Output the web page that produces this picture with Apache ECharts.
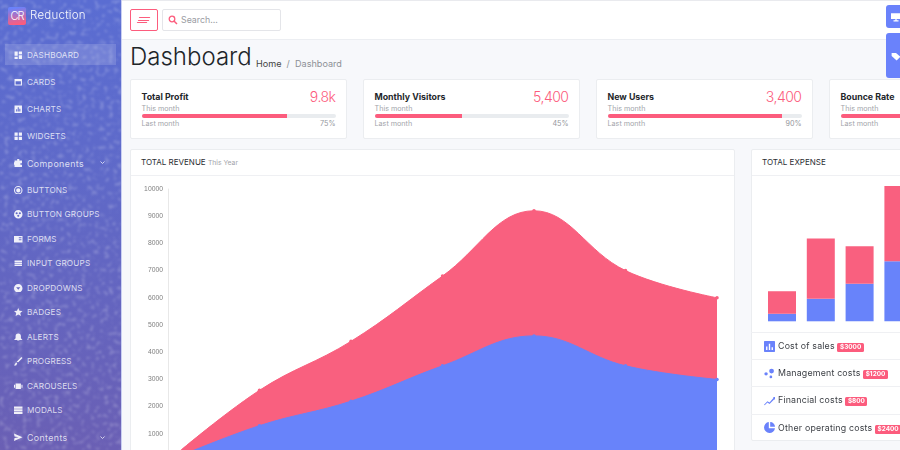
<!DOCTYPE html>
<html>
<head>
<meta charset="utf-8">
<title>Reduction</title>
<script src="https://cdn.jsdelivr.net/npm/echarts@6/dist/echarts.min.js"></script>
<style>
  html, body { margin: 0; padding: 0; width: 900px; height: 450px; overflow: hidden; background: #f7f8fb; font-family: Inter, "Noto Sans", sans-serif; color: #212529; }
  .abs { position: absolute; }
  #sidebar { left: 0; top: 0; width: 121px; height: 450px; overflow: hidden; background: linear-gradient(180deg, #5a6dd2 0%, #5f69c8 40%, #6a5fb4 100%); border-right: 1px solid #c9cff2; }
  #sidebar svg.noise { position: absolute; left: 0; top: 0; }
  #logo { left: 8px; top: 7px; width: 18px; height: 18px; border-radius: 2px; background: linear-gradient(170deg, #6a82fb 10%, #fc5c7d 90%); color: #fff; font-size: 11px; line-height: 18px; text-align: center; letter-spacing: -1px; font-weight: 300; }
  #brand { left: 30px; top: 7px; font-size: 11.5px; line-height: 17px; color: #fff; font-weight: 300; opacity: .95; letter-spacing: .25px; }
  #nav { left: 0; top: 41.5px; width: 121px; }
  .item { position: relative; height: 27px; line-height: 27px; padding-left: 27px; font-size: 8.2px; color: rgba(255,255,255,.78); white-space: nowrap; letter-spacing: .15px; }
  .item.sub { height: 24.5px; line-height: 24.5px; }
  .item.big { font-size: 8.8px; letter-spacing: .4px; }
  .item.active::before { content: ""; position: absolute; left: 5px; right: 5px; top: 2.5px; bottom: 3.5px; background: rgba(255,255,255,.15); }
  .item svg { position: absolute; left: 14px; top: 50%; margin-top: -4.5px; width: 8.5px; height: 8.5px; fill: #fff; opacity: .9; }
  .sub-first { margin-top: 1.25px; }
  .sub-last { margin-bottom: 1.25px; }

  #topbar { left: 122px; top: 0; width: 778px; background: #fff; border-top: 1px solid #e9eaee; border-bottom: 1px solid #eceef2; box-sizing: border-box; height: 40px; }
  #burger { left: 130px; top: 9px; width: 26px; height: 20px; border: 1px solid #fc5c7d; border-radius: 2px; background: #fff; }
  #burger i { position: absolute; height: 1.2px; background: #fc5c7d; transform: skewX(-30deg); }
  #search { left: 162px; top: 9px; width: 117px; height: 20px; border: 1px solid #e4e5e9; border-radius: 2px; background: #fff; }
  #search span { position: absolute; left: 18px; top: 0; line-height: 19px; font-size: 8.8px; color: #9a9ca3; }
  #search svg { position: absolute; left: 5px; top: 4.5px; width: 10px; height: 10px; }
  .tab { left: 886px; width: 14px; background: #6a82fb; border-radius: 3px 0 0 3px; }
  .tab svg { position: absolute; left: 5px; width: 10px; height: 10px; fill: #fff; }

  #title { left: 130px; top: 40px; font-size: 24px; line-height: 33px; font-weight: 300; color: #212529; }
  #crumbs { left: 256px; top: 57px; font-size: 9.1px; line-height: 14px; color: #444; white-space: nowrap; }
  #crumbs em { font-style: normal; color: #8d9096; }

  .card { background: #fff; border: 1px solid #ebedf0; border-radius: 2px; box-sizing: border-box; }
  .stat { top: 79px; width: 217px; height: 60px; }
  .stat .name { position: absolute; left: 10.5px; top: 10.5px; font-size: 8.8px; line-height: 12px; font-weight: 700; color: #23262b; white-space: nowrap; }
  .stat .val { position: absolute; right: 10.5px; top: 7px; font-size: 14px; line-height: 20px; font-weight: 300; color: #fc5c7d; letter-spacing: -.5px; }
  .stat .lbl { position: absolute; left: 10.5px; font-size: 7.2px; line-height: 9px; color: #a2a4aa; white-space: nowrap; }
  .stat .pct { position: absolute; right: 10.5px; top: 38.5px; font-size: 7.2px; line-height: 9px; color: #94969c; }
  .stat .track { position: absolute; left: 10.5px; width: 194px; top: 33.5px; height: 4.5px; background: #e9ecef; border-radius: 2px; overflow: hidden; }
  .stat .fill { height: 100%; background: #fc5c7d; }

  .head { position: absolute; left: 0; right: 0; top: 0; height: 26px; border-bottom: 1px solid #eff0f3; box-sizing: border-box; font-size: 8px; line-height: 24px; padding-left: 10px; color: #2b2e33; white-space: nowrap; }
  .head small { font-size: 6.8px; color: #a2a4aa; }
  #revenueCard { left: 130px; top: 149px; width: 605px; height: 330px; }
  #expenseCard { left: 751px; top: 149px; width: 180px; height: 292px; }
  #revenue { left: 130px; top: 176px; width: 600px; height: 300px; }
  #expense { left: 751px; top: 176px; width: 180px; height: 157px; }
  #costs { left: 751px; top: 332px; width: 180px; }
  .cost { position: relative; height: 27.2px; line-height: 26px; border-top: 1px solid #eff0f3; box-sizing: border-box; padding-left: 27px; font-size: 8.8px; color: #3d4046; white-space: nowrap; letter-spacing: .2px; }
  .cost b { display: inline-block; margin-left: 0; padding: 0 2.5px; height: 9px; line-height: 9px; font-size: 6.4px; font-weight: 700; color: #fff; background: #fc5c7d; border-radius: 1.5px; letter-spacing: 0; }
  .cost svg { position: absolute; left: 12.5px; top: 7.5px; width: 11px; height: 11px; fill: #6a82fb; }
</style>
</head>

<body>
  <div id="sidebar" class="abs">
    <svg class="noise" width="122" height="450">
      <filter id="speck" x="0" y="0" width="100%" height="100%">
        <feTurbulence type="fractalNoise" baseFrequency="0.22" numOctaves="2" seed="11"/>
        <feColorMatrix values="0 0 0 0 1  0 0 0 0 1  0 0 0 0 1  5 0 0 0 -2.7"/>
        <feGaussianBlur stdDeviation="0.9"/>
      </filter>
      <rect width="122" height="450" filter="url(#speck)" opacity="0.2"/>
    </svg>
    <div id="logo" class="abs">CR</div>
    <div id="brand" class="abs">Reduction</div>
    <div id="nav" class="abs"></div>
  </div>

  <div id="topbar" class="abs"></div>
  <div id="burger" class="abs">
    <i style="left:8px;top:7px;width:11px"></i><i style="left:7px;top:9.5px;width:11px"></i><i style="left:6px;top:12px;width:10px"></i>
  </div>
  <div id="search" class="abs">
    <svg viewBox="0 0 10 10"><circle cx="4" cy="4" r="2.8" fill="none" stroke="#fc5c7d" stroke-width="1.3"/><path d="M6 6 L9 9" stroke="#fc5c7d" stroke-width="1.5"/></svg>
    <span>Search...</span>
  </div>
  <div class="tab abs" style="top:5px;height:23px"><svg style="top:7px" viewBox="0 0 16 16"><path d="M0 2h16v9H9v2h3v2H4v-2h3v-2H0z"/></svg></div>
  <div class="tab abs" style="top:33px;height:45px"><svg style="top:18px" viewBox="0 0 16 16"><path d="M1 3h7l7 6-6 6-8-7z"/></svg></div>

  <div id="title" class="abs">Dashboard</div>
  <div id="crumbs" class="abs">Home&nbsp; <em>/</em> &nbsp;<em>Dashboard</em></div>

  <div id="stats"></div>

  <div id="revenueCard" class="card abs"><div class="head">TOTAL REVENUE <small>This Year</small></div></div>
  <div id="expenseCard" class="card abs"><div class="head">TOTAL EXPENSE</div></div>
  <div id="revenue" class="abs"></div>
  <div id="expense" class="abs"></div>
  <div id="costs" class="abs"></div>

  <script type="text/javascript">
    var months = ['January', 'February', 'March', 'April', 'May', 'June', 'July'];
    var revenuePink = [0, 2600, 4400, 6800, 9200, 7000, 6000];
    var revenueBlue = [0, 1300, 2200, 3500, 4600, 3500, 3000];
    var revenueMax = 10000;
    var revenueStep = 1000;

    var expenseCategories = ['A', 'B', 'C', 'D'];
    var expenseBlue = [1, 3, 5, 8];
    var expensePink = [3, 8, 5, 10];
    var expenseMax = 18;

    var statNames = ['Total Profit', 'Monthly Visitors', 'New Users', 'Bounce Rate'];
    var statValues = ['9.8k', '5,400', '3,400', ''];
    var statPercents = [75, 45, 90, 60];
    var statLefts = [130, 363, 596, 829];

    var costNames = ['Cost of sales', 'Management costs', 'Financial costs', 'Other operating costs'];
    var costAmounts = ['$3000', '$1200', '$800', '$2400'];
    var costIcons = [
      'M1 0h14a1 1 0 0 1 1 1v14a1 1 0 0 1-1 1H1a1 1 0 0 1-1-1V1a1 1 0 0 1 1-1zM3 8v5h2V8zM7 4v9h2V4zM11 9v4h2V9z',
      'M11 1a3.4 3.4 0 1 1 0 7 3.4 3.4 0 0 1 0-7zM3 6a2.4 2.4 0 1 1 0 5 2.4 2.4 0 0 1 0-5zM10 11a2 2 0 1 1 0 4 2 2 0 0 1 0-4z',
      'M0 14l5-5 3 2 6-7-1-1h3v4l-1-1-7 7-3-2-4 4z',
      'M7 0v9h9a8 8 0 1 1-9-9zM9 0a7 7 0 0 1 7 7H9z'
    ];

    var navLabels = ['DASHBOARD', 'CARDS', 'CHARTS', 'WIDGETS', 'Components', 'BUTTONS', 'BUTTON GROUPS', 'FORMS', 'INPUT GROUPS', 'DROPDOWNS', 'BADGES', 'ALERTS', 'PROGRESS', 'CAROUSELS', 'MODALS', 'Contents'];
    var navIcons = [
      'M1 1h6v8H1zM9 1h6v5H9zM1 11h6v4H1zM9 8h6v7H9z',
      'M1 2h14v12H1zM3 6v6h10V6z',
      'M1 1h14v14H1zM4 12h2V8H4zM7 12h2V4H7zM10 12h2V7h-2z',
      'M1 1h6v6H1zM9 1h6v6H9zM1 9h6v6H1zM9 9h6v6H9z',
      'M6 0h4v3h5v5h-3v3h3v5H1v-5H0V6h1V3h5z',
      'M8 0a8 8 0 1 1 0 16A8 8 0 0 1 8 0zM8 2a6 6 0 1 0 0 12A6 6 0 0 0 8 2zM8 4a4 4 0 1 1 0 8 4 4 0 0 1 0-8z',
      'M8 0a8 8 0 1 1 0 16A8 8 0 0 1 8 0zM5 4a2 2 0 1 0 0 4 2 2 0 0 0 0-4zM11 4a2 2 0 1 0 0 4 2 2 0 0 0 0-4zM8 9a2 2 0 1 0 0 4 2 2 0 0 0 0-4z',
      'M0 2h16v12H0zM9 4v2h5V4zM9 8v2h5V8z',
      'M1 3h14v3H1zM1 7h14v3H1zM1 11h14v2H1z',
      'M8 0a8 8 0 1 1 0 16A8 8 0 0 1 8 0zM4 6l4 5 4-5z',
      'M8 0l2.4 5.2 5.6.6-4.2 3.8 1.2 5.6L8 12.4 3 15.2l1.2-5.6L0 5.8l5.6-.6z',
      'M8 1a5 5 0 0 1 5 5v4l3 3H0l3-3V6a5 5 0 0 1 5-5zM6 14h4v2H6z',
      'M14 0l2 2-8 8-3-1zM4 10l2 2-2 4H0z',
      'M3 3h10v10H3zM0 5h2v6H0zM14 5h2v6h-2z',
      'M0 1h16v4H0zM0 6h16v4H0zM0 11h16v4H0z',
      'M0 1l16 7L0 15l1-5.5L9 8 1 6.5z'
    ];
    var navSub = [5, 6, 7, 8, 9, 10, 11, 12, 13, 14];
    var navBig = [4, 15];

    // left menu
    var navHtml = '';
    for (var i = 0; i < navLabels.length; i++) {
      var cls = 'item';
      if (navSub.indexOf(i) >= 0) cls += ' sub';
      if (navBig.indexOf(i) >= 0) cls += ' big';
      if (i == 0) cls += ' active';
      if (i == 5) cls += ' sub-first';
      if (i == 14) cls += ' sub-last';
      navHtml += '<div class="' + cls + '"><svg viewBox="0 0 16 16"><path fill-rule="evenodd" d="' + navIcons[i] + '"/></svg>' + navLabels[i];
      if (navBig.indexOf(i) >= 0) navHtml += '<svg style="left:100px;margin-top:-2px;width:5px;height:4px;fill:none" viewBox="0 0 10 8"><path d="M1 1l4 4 4-4" stroke="#fff" stroke-width="1.6"/></svg>';
      navHtml += '</div>';
    }
    document.getElementById('nav').innerHTML = navHtml;

    // stat cards
    var statHtml = '';
    for (var s = 0; s < statNames.length; s++) {
      statHtml += '<div class="card abs stat" style="left:' + statLefts[s] + 'px">' +
        '<div class="name">' + statNames[s] + '</div>' +
        '<div class="val">' + statValues[s] + '</div>' +
        '<div class="lbl" style="top:23.5px">This month</div>' +
        '<div class="track"><div class="fill" style="width:' + statPercents[s] + '%"></div></div>' +
        '<div class="lbl" style="top:38.5px">Last month</div>' +
        '<div class="pct">' + statPercents[s] + '%</div></div>';
    }
    document.getElementById('stats').innerHTML = statHtml;

    // cost list
    var costHtml = '';
    for (var c = 0; c < costNames.length; c++) {
      costHtml += '<div class="cost"><svg viewBox="0 0 16 16"><path fill-rule="evenodd" d="' + costIcons[c] + '"/></svg>' + costNames[c] + ' <b>' + costAmounts[c] + '</b></div>';
    }
    document.getElementById('costs').innerHTML = costHtml;

    var revenueChart = echarts.init(document.getElementById('revenue'));
    revenueChart.setOption({
      animation: false,
      grid: { left: 38, top: 13, width: 549, height: 272 },
      xAxis: {
        type: 'category',
        data: months,
        boundaryGap: false,
        axisLine: { show: false },
        axisTick: { show: false },
        axisLabel: { show: false }
      },
      yAxis: {
        type: 'value',
        min: 0,
        max: revenueMax,
        interval: revenueStep,
        splitLine: { show: false },
        axisTick: { show: false },
        axisLine: { show: true, lineStyle: { color: '#e8e8e8', width: 1 } },
        axisLabel: {
          color: '#7f7f7f',
          fontSize: 6.8,
          margin: 5,
          padding: [2, 0, 0, 0],
          fontFamily: 'Liberation Sans',
          formatter: function(v) { return String(v); }
        }
      },
      series: [{
        type: 'line',
        data: revenuePink,
        smooth: 0.4,
        symbol: 'circle',
        symbolSize: 3.5,
        lineStyle: { width: 1, color: '#f9607f' },
        itemStyle: { color: '#f9607f' },
        areaStyle: { color: '#f9607f', opacity: 1 }
      }, {
        type: 'line',
        data: revenueBlue,
        smooth: 0.4,
        symbol: 'circle',
        symbolSize: 3.5,
        lineStyle: { width: 1, color: '#6883fa' },
        itemStyle: { color: '#6883fa' },
        areaStyle: { color: '#6883fa', opacity: 1 }
      }]
    });

    var expenseChart = echarts.init(document.getElementById('expense'));
    expenseChart.setOption({
      animation: false,
      grid: { left: 11.6, top: 10, width: 155.2, height: 135.3 },
      xAxis: {
        type: 'category',
        data: expenseCategories,
        axisLine: { show: false },
        axisTick: { show: false },
        axisLabel: { show: false }
      },
      yAxis: { type: 'value', min: 0, max: expenseMax, show: false },
      series: [{
        type: 'bar',
        stack: 'expense',
        data: expenseBlue,
        barWidth: 28,
        itemStyle: { color: '#6883fa' }
      }, {
        type: 'bar',
        stack: 'expense',
        data: expensePink,
        barWidth: 28,
        itemStyle: { color: '#f9607f' }
      }]
    });
  </script>
</body>
</html>
